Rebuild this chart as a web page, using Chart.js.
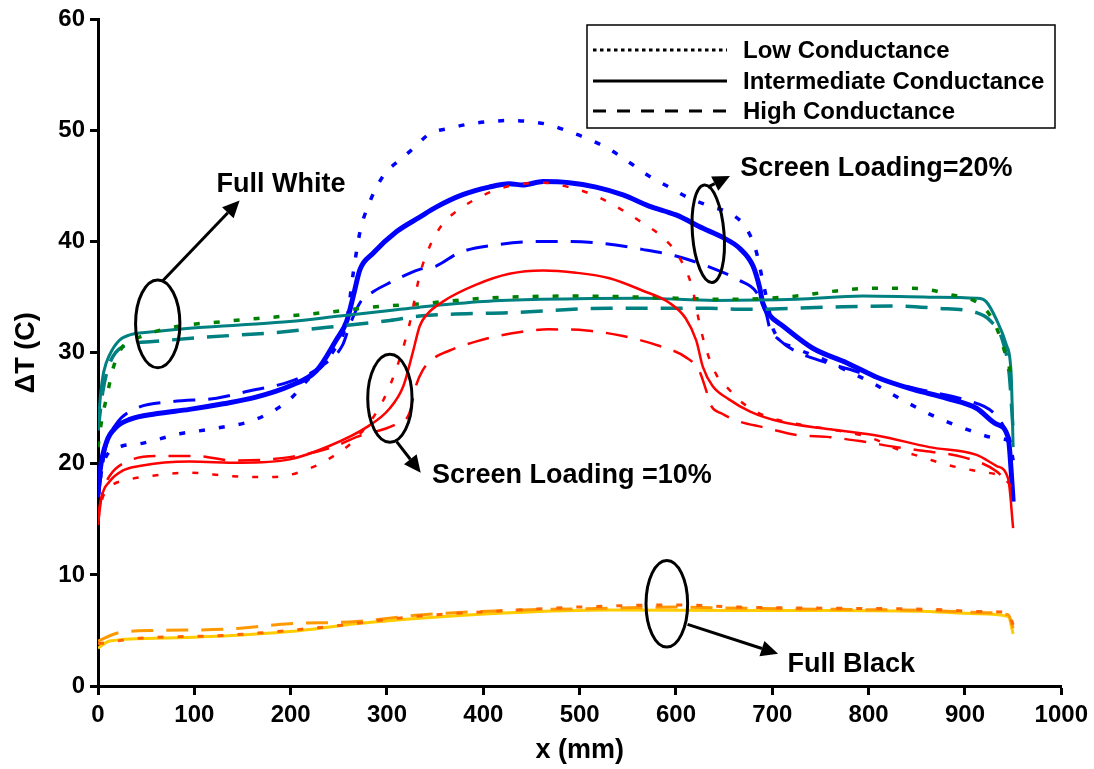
<!DOCTYPE html>
<html>
<head>
<meta charset="utf-8">
<script src="https://cdn.jsdelivr.net/npm/chart.js@4.4.0/dist/chart.umd.min.js"></script>
<style>
  html, body { margin: 0; padding: 0; background: #fff; }
</style>
</head>
<body>
<canvas id="tempChart" width="1094" height="769"></canvas>
<script>
/*** Temperature rise profiles, [x (mm), dT (C)] ***/
// Full white
const whiteLow = [[0,21.5],[4,24],[9,26],[16,28.7],[26,30.6],[43,31.4],[78,32.3],[130,32.8],[182,33.2],[234,33.6],[285,34.1],[334,34.4],[400,34.9],[496,35.1],[565,35.0],[656,34.8],[725,35.1],[760,35.5],[805,35.8],[846,35.8],[881,35.3],[919,34.1],[932,32.4],[946,28.7],[950,27.4]];
const whiteMid = [[0,23.5],[3,26.5],[6,28.3],[12,29.8],[22,31.1],[33,31.6],[60,31.9],[95,32.2],[147,32.5],[199,32.8],[251,33.3],[303,33.8],[334,34.1],[400,34.6],[461,34.8],[565,34.9],[640,34.7],[725,34.8],[794,35.1],[863,35.0],[912,34.9],[922,34.6],[932,33.1],[943,30.7],[948,28.0],[950,21.5]];
const whiteHigh = [[0,23],[5,26.5],[12,29],[25,30.5],[57,31.0],[112,31.4],[182,31.8],[251,32.4],[303,32.9],[334,33.3],[427,33.6],[531,34.0],[635,34.0],[673,33.9],[760,34.1],[829,34.2],[870,34.0],[912,33.6],[926,32.9],[939,31.1],[946,28.0],[950,23]];

// Screen loading 20%
const sl20Low = [[0,17],[5,19.9],[22,21.5],[43,21.8],[85,22.7],[123,23.2],[164,24.0],[199,25.8],[216,27.4],[244,30.1],[258,32.8],[265,37.2],[272,40.9],[279,42.9],[296,45.9],[317,47.6],[330,48.6],[344,49.7],[365,50.2],[386,50.6],[406,50.8],[427,50.9],[448,50.8],[469,50.5],[489,49.9],[510,49.2],[531,48.3],[552,47.1],[572,45.9],[593,44.9],[614,43.9],[635,43.2],[659,42.4],[673,41.2],[683,39.2],[690,36.5],[696,34.1],[701,32.1],[725,30.4],[753,29.4],[777,28.4],[801,27.4],[836,25.7],[870,24.2],[905,23.0],[933,22.3],[946,22.0],[950,20.3]];
const sl20Mid = [[0,17.2],[2,19.3],[9,22],[19,23.3],[33,24.0],[60,24.5],[95,24.9],[130,25.4],[164,26.0],[199,27.0],[227,28.4],[247,31.1],[258,32.8],[265,35.1],[272,37.5],[285,38.9],[310,40.9],[334,42.2],[351,43.1],[378,44.2],[406,44.9],[427,45.2],[441,45.1],[462,45.4],[489,45.3],[517,44.9],[545,44.2],[572,43.2],[600,42.4],[628,41.2],[648,40.4],[666,39.4],[680,37.8],[687,35.8],[690,34.5],[697,33.4],[711,32.4],[742,30.4],[777,29.1],[811,27.7],[846,26.7],[881,25.9],[912,25.0],[932,23.6],[945,22.3],[948,19.3],[950,16.6]];
const sl20High = [[0,17],[8,21.5],[19,23.6],[40,25.0],[78,25.6],[123,25.9],[154,26.5],[199,27.4],[234,28.9],[254,30.7],[261,32.4],[272,34.5],[286,35.5],[303,36.3],[334,37.5],[351,37.8],[375,39.0],[413,39.7],[451,40.0],[489,40.0],[527,39.8],[565,39.3],[600,38.7],[635,37.7],[666,36.5],[683,35.5],[694,33.4],[697,32.3],[708,31.1],[725,30.1],[753,29.2],[784,28.4],[829,27.2],[863,26.5],[898,25.8],[933,24.3],[946,22.3],[950,21.3]];

// Screen loading 10%
const sl10Low = [[0,15],[5,17],[12,17.9],[33,18.6],[54,18.9],[95,19.2],[137,18.9],[178,18.8],[199,19.0],[220,19.6],[237,20.3],[268,22.3],[296,25.7],[313,29.4],[324,32.8],[334,37],[344,39.5],[358,41.6],[375,42.9],[403,44.3],[427,45.0],[462,45.3],[489,44.9],[517,44.1],[545,42.8],[565,41.7],[586,40.4],[604,38.5],[617,35.8],[624,32.8],[631,30.4],[642,28.0],[655,26.7],[666,25.7],[690,24.4],[725,23.6],[760,23.1],[800,22.4],[836,21.1],[856,20.6],[877,20.0],[915,19.3],[946,18.2],[950,17]];
const sl10Mid = [[0,14.5],[3.5,16.9],[12,18.4],[26,19.4],[43,19.8],[95,20.2],[147,20.1],[199,20.4],[240,21.6],[279,23.3],[303,25.0],[317,27.0],[327,30.1],[334,32.4],[341,33.4],[358,34.6],[392,36.1],[427,37.1],[462,37.4],[496,37.2],[531,36.7],[565,35.6],[593,34.5],[610,33.1],[621,31.1],[628,28.7],[638,27.0],[655,25.8],[677,24.7],[708,23.8],[760,23.1],[811,22.5],[863,21.5],[912,20.8],[933,19.8],[945,18.6],[950,14.2]];
const sl10High = [[0,15.5],[5,17.5],[12,18.9],[33,20.3],[60,20.7],[102,20.7],[140,20.3],[199,20.6],[247,21.6],[268,22.4],[310,23.6],[323,24.5],[330,27.0],[337,28.4],[347,29.4],[365,30.2],[392,31.0],[427,31.7],[468,32.1],[507,32.0],[545,31.5],[583,30.6],[610,29.6],[624,28.4],[631,26.7],[636,25.3],[648,24.5],[666,23.8],[690,23.3],[725,22.6],[760,22.4],[794,22.0],[829,21.5],[863,21.1],[898,20.6],[933,19.3],[948,17.9]];

// Full black
const blackLow = [[0,3.8],[43,4.3],[130,4.55],[234,5.3],[334,6.3],[427,6.8],[496,7.1],[600,7.3],[666,7.1],[760,7.0],[863,6.9],[920,6.7],[945,6.6],[950,5.5]];
const blackMid = [[0,3.4],[12,4.05],[60,4.3],[130,4.5],[199,4.9],[268,5.6],[334,6.1],[427,6.6],[531,6.85],[666,6.8],[760,6.8],[863,6.7],[912,6.5],[945,6.25],[950,4.7]];
const blackHigh = [[0,4.05],[22,4.8],[60,5.0],[130,5.1],[199,5.6],[268,5.8],[334,6.4],[427,6.8],[531,7.0],[600,7.1],[666,7.0],[760,6.9],[863,6.8],[920,6.6],[945,6.4],[950,5.2]];

/*** Axis ticks ***/
const xTicks = [0, 100, 200, 300, 400, 500, 600, 700, 800, 900, 1000];
const yTicks = [0, 10, 20, 30, 40, 50, 60];

/*** Legend entries ***/
const legendNames = ['Low Conductance', 'Intermediate Conductance', 'High Conductance'];

/*** Callouts: ellipse [cx, cy, rx, ry, tilt], arrow [x0, y0, x1, y1], label [text, x, y] in axis units ***/
const calloutRings = [[62, 32.6, 23, 3.95, 0], [303, 25.9, 23, 3.97, 0], [633.5, 40.7, 16.4, 4.4, -0.08], [590.5, 7.4, 21.6, 3.9, 0]];
const calloutArrows = [[67.5, 36.5, 147, 43.7], [310, 22.0, 335, 19.2], [633, 44.9, 656, 45.9], [612, 5.55, 706, 2.9]];
const calloutLabels = [['Full White', 190, 45.1], ['Screen Loading =10%', 492, 18.9], ['Screen Loading=20%', 808, 46.55], ['Full Black', 782, 1.9]];

const FONT = '"Liberation Sans", Arial, Helvetica, sans-serif';
const DOTTED = [6, 14];
const DASHED = [22, 13];

function profile(points, color, dash, width) {
    return {
        data: points.map(p => ({x: p[0], y: p[1]})),
        borderColor: color,
        borderWidth: width,
        borderDash: dash,
        pointRadius: 0,
        fill: false,
        cubicInterpolationMode: 'monotone'
    };
}

/*** Ellipses, arrows, labels and the legend box ***/
const callouts = {
    id: 'callouts',
    afterDatasetsDraw(chart) {
        const ctx = chart.ctx;
        const xs = chart.scales.x, ys = chart.scales.y;
        const px = v => xs.getPixelForValue(v);
        const py = v => ys.getPixelForValue(v);
        ctx.save();
        ctx.strokeStyle = '#000';
        ctx.fillStyle = '#000';
        ctx.lineWidth = 3;
        ctx.setLineDash([]);

        calloutRings.forEach(r => {
            ctx.beginPath();
            ctx.ellipse(px(r[0]), py(r[1]), px(r[0] + r[2]) - px(r[0]), py(r[1]) - py(r[1] + r[3]), r[4], 0, Math.PI * 2);
            ctx.stroke();
        });

        calloutArrows.forEach(a => {
            const x0 = px(a[0]), y0 = py(a[1]), x1 = px(a[2]), y1 = py(a[3]);
            const ang = Math.atan2(y1 - y0, x1 - x0);
            const head = 17, half = 8;
            ctx.beginPath();
            ctx.moveTo(x0, y0);
            ctx.lineTo(x1 - head * Math.cos(ang), y1 - head * Math.sin(ang));
            ctx.stroke();
            ctx.beginPath();
            ctx.moveTo(x1, y1);
            ctx.lineTo(x1 - head * Math.cos(ang) + half * Math.sin(ang), y1 - head * Math.sin(ang) - half * Math.cos(ang));
            ctx.lineTo(x1 - head * Math.cos(ang) - half * Math.sin(ang), y1 - head * Math.sin(ang) + half * Math.cos(ang));
            ctx.closePath();
            ctx.fill();
        });

        ctx.font = 'bold 27px ' + FONT;
        ctx.textAlign = 'center';
        ctx.textBaseline = 'middle';
        calloutLabels.forEach(l => ctx.fillText(l[0], px(l[1]), py(l[2])));

        // legend box, top right
        const box = {left: 587, top: 25, right: 1055, bottom: 128};
        ctx.fillStyle = '#fff';
        ctx.fillRect(box.left, box.top, box.right - box.left, box.bottom - box.top);
        ctx.lineWidth = 1.5;
        ctx.strokeRect(box.left, box.top, box.right - box.left, box.bottom - box.top);
        const rows = [50, 81, 111];
        const samples = [[3.5, 3.5], [], [13, 11]];
        ctx.lineWidth = 3;
        ctx.fillStyle = '#000';
        ctx.font = 'bold 24px ' + FONT;
        ctx.textAlign = 'left';
        legendNames.forEach((name, i) => {
            ctx.setLineDash(samples[i]);
            ctx.beginPath();
            ctx.moveTo(593, rows[i]);
            ctx.lineTo(727, rows[i]);
            ctx.stroke();
            ctx.fillText(name, 743, rows[i] + 1);
        });
        ctx.restore();
    }
};

new Chart(document.getElementById('tempChart'), {
    type: 'line',
    data: {
        datasets: [
            profile(blackLow, '#FF6600', DOTTED, 3),
            profile(blackHigh, '#FF9900', DASHED, 3),
            profile(blackMid, '#FFCC00', [], 3),
            profile(sl10Low, '#FF0000', DOTTED, 2.5),
            profile(sl10High, '#FF0000', DASHED, 2.5),
            profile(sl10Mid, '#FF0000', [], 2.5),
            profile(whiteLow, '#008000', DOTTED, 3.5),
            profile(whiteHigh, '#008080', DASHED, 3.5),
            profile(whiteMid, '#008080', [], 3),
            profile(sl20Low, '#0000FF', DOTTED, 3.5),
            profile(sl20High, '#0000FF', DASHED, 3),
            profile(sl20Mid, '#0000FF', [], 5)
        ]
    },
    options: {
        responsive: false,
        animation: false,
        devicePixelRatio: 1,
        layout: {
            padding: {top: 18, right: 32, left: 0, bottom: 0}
        },
        plugins: {
            legend: {display: false},
            tooltip: {enabled: false}
        },
        scales: {
            x: {
                type: 'linear',
                min: 0,
                max: 1000,
                afterFit: s => { s.height = 83; },
                afterBuildTicks: s => { s.ticks = xTicks.map(v => ({value: v})); },
                border: {display: true, color: '#000', width: 3},
                grid: {display: true, drawOnChartArea: false, drawTicks: true, tickLength: 9, tickWidth: 3, tickColor: '#000'},
                ticks: {color: '#000', font: {family: FONT, size: 24, weight: 'bold'}, padding: 6, maxRotation: 0, autoSkip: false, callback: v => String(v)},
                title: {display: true, text: 'x (mm)', color: '#000', font: {family: FONT, size: 27, weight: 'bold'}, padding: {top: 0, bottom: 2}}
            },
            y: {
                type: 'linear',
                min: 0,
                max: 60,
                afterFit: s => { s.width = 98; },
                afterBuildTicks: s => { s.ticks = yTicks.map(v => ({value: v})); },
                border: {display: true, color: '#000', width: 3},
                grid: {display: true, drawOnChartArea: false, drawTicks: true, tickLength: 8, tickWidth: 3, tickColor: '#000'},
                ticks: {color: '#000', font: {family: FONT, size: 24, weight: 'bold'}, padding: 5, callback: v => String(v)},
                title: {display: true, text: 'ΔT (C)', color: '#000', font: {family: FONT, size: 27, weight: 'bold'}, padding: {top: 10, bottom: 0}}
            }
        }
    },
    plugins: [callouts]
});
</script>
</body>
</html>
